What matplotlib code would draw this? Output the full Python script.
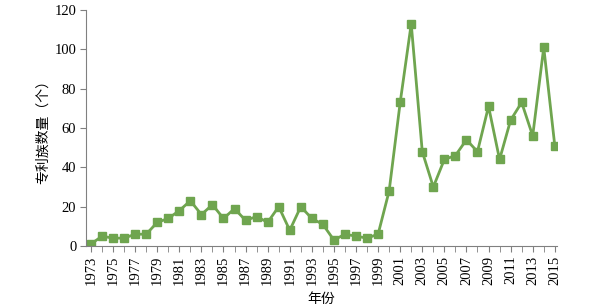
import matplotlib
matplotlib.use("Agg")
import matplotlib.pyplot as plt

years = list(range(1973, 2016))
counts = [1, 5, 4, 4, 6, 6, 12, 14, 18, 23, 16, 21, 14, 19, 13, 15, 12, 20, 8, 20,
          14, 11, 3, 6, 5, 4, 6, 28, 73, 113, 48, 30, 44, 46, 54, 48, 71, 44, 64, 73,
          56, 101, 51]
ylabel = "专利族数量（个）"
xlabel = "年份"

plt.rcParams['font.family'] = ['Liberation Serif', 'Noto Sans CJK SC']
plt.rcParams['font.serif'] = ['Liberation Serif']

fig = plt.figure(figsize=(6.02, 3.08), dpi=100)
ax = fig.add_axes([86/602, 1 - 246/308, (557-86)/602, (246-10)/308])
color = "#6fa54f"
ax.plot(years, counts, color=color, lw=2.0, marker="s", ms=5.8, mec=color, mfc=color)
ax.set_ylim(0, 120)
ax.set_yticks(range(0, 121, 20))
ax.set_xlim(1972.55, 2015.2)
ax.set_xticks(years, minor=True)
ax.set_xticks(years[::2])
ax.set_xticklabels([str(y) for y in years[::2]], rotation=90,
                   family=['Liberation Serif'], fontsize=10.5)
ax.set_yticklabels([str(v) for v in range(0, 121, 20)],
                   family=['Liberation Serif'], fontsize=10.5)
ax.tick_params(axis='both', colors='black', width=0.8)
ax.tick_params(axis='x', which='both', length=4, direction='out', pad=3)
ax.tick_params(axis='y', length=4, direction='out', pad=3)
for s in ['top', 'right']:
    ax.spines[s].set_visible(False)
for s in ['left', 'bottom']:
    ax.spines[s].set_color('#808080')
ax.tick_params(which='both', color='#808080')
ax.set_ylabel(ylabel, family=['Noto Sans CJK SC'], fontsize=10, labelpad=3)
ax.set_xlabel(xlabel, family=['Noto Sans CJK SC'], fontsize=10, labelpad=5)
fig.savefig("out.png", dpi=100)
